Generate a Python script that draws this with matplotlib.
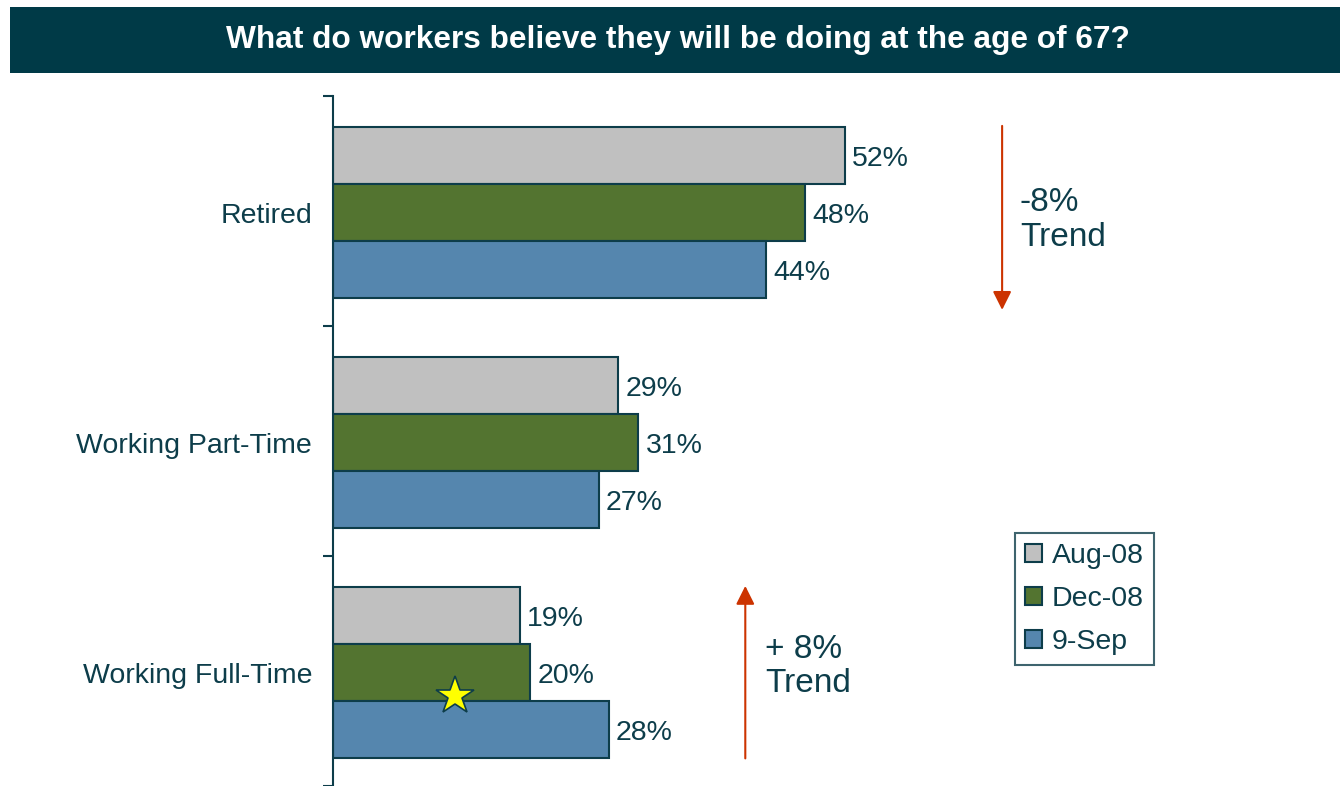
import matplotlib
matplotlib.use("Agg")
import matplotlib.pyplot as plt
from matplotlib.patches import Rectangle
import numpy as np

plt.rcParams["font.family"] = ["Liberation Sans", "DejaVu Sans"]

# survey answers, share of workers (%)
categories = ["Retired", "Working Part-Time", "Working Full-Time"]
series_names = ["Aug-08", "Dec-08", "9-Sep"]
aug_08 = [52, 29, 19]
dec_08 = [48, 31, 20]
sep_09 = [44, 27, 28]
trend_labels = ["-8%\nTrend", "+ 8%\nTrend"]

DARK = "#0D3D4A"
BANNER = "#003A47"
ARROW = "#CC3300"
colors = ["#C0C0C0", "#537430", "#5586AE"]

W, H = 1340, 786
fig = plt.figure(figsize=(W / 100, H / 100), dpi=100, facecolor="white")

# header banner
fig.patches.append(Rectangle((10 / W, 1 - 73 / H), 1 - 10 / W, 66 / H,
                             transform=fig.transFigure, facecolor=BANNER,
                             edgecolor="none", zorder=0))
fig.text(0.5 + 8 / W, 1 - 40 / H,
         "What do workers believe they will be doing at the age of 67?",
         ha="center", va="center", color="white", fontsize=22.8, fontweight="bold")

ax = fig.add_axes([333 / W, 0, (1317 - 333) / W, (786 - 96) / H])
ax.set_xlim(0, 100)
ax.set_ylim(2.5, -0.5)

y = np.arange(len(categories)) + 0.008
h = 0.248
for k, (vals, name) in enumerate(zip([aug_08, dec_08, sep_09], series_names)):
    pos = y + (k - 1) * h
    ax.barh(pos, vals, height=h, color=colors[k], edgecolor=DARK,
            linewidth=1.5, label=name, zorder=2)
    for p, v in zip(pos, vals):
        ax.text(v + 0.75, p + 0.012, f"{v}%", va="center", ha="left",
                color=DARK, fontsize=20.5)

# star on the full-time row
ax.plot(12.4, 2.108, marker="*", markersize=29, color="#FFFF00",
        markeredgecolor=DARK, markeredgewidth=1.2, zorder=4)

# axis styling
for s in ["top", "right", "bottom"]:
    ax.spines[s].set_visible(False)
ax.spines["left"].set_color(DARK)
ax.spines["left"].set_linewidth(1.5)
ax.set_xticks([])
ax.set_yticks(y)
ax.set_yticklabels(categories, fontsize=20.5, color=DARK)
ax.tick_params(axis="y", which="major", length=0, pad=15)
ax.set_yticks([-0.5, 0.5, 1.5, 2.5], minor=True)
ax.tick_params(axis="y", which="minor", length=7, width=1.5, color=DARK,
               direction="out")

# trend arrows
ax.annotate("", xy=(68.0, 0.43), xytext=(68.0, -0.37),
            arrowprops=dict(arrowstyle="-|>", color=ARROW, lw=1.5,
                            mutation_scale=28, shrinkA=0, shrinkB=0))
ax.text(69.8, 0.04, trend_labels[0], ha="left", va="center",
        color=DARK, fontsize=24, linespacing=1.15)
ax.annotate("", xy=(41.9, 1.63), xytext=(41.9, 2.38),
            arrowprops=dict(arrowstyle="-|>", color=ARROW, lw=1.5,
                            mutation_scale=28, shrinkA=0, shrinkB=0))
ax.text(43.9, 1.98, trend_labels[1], ha="left", va="center",
        color=DARK, fontsize=24, linespacing=1.15)

leg = ax.legend(loc="upper left", bbox_to_anchor=((1015 - 333) / 984, (786 - 533) / 690),
                frameon=True, fancybox=False, fontsize=20.5, handlelength=0.6,
                handleheight=0.6, handletextpad=0.35, labelspacing=0.6,
                borderpad=0.35, borderaxespad=0)
leg.get_frame().set_edgecolor(DARK)
leg.get_frame().set_linewidth(1.5)
for t in leg.get_texts():
    t.set_color(DARK)

fig.savefig("out.png", dpi=100, facecolor="white")
